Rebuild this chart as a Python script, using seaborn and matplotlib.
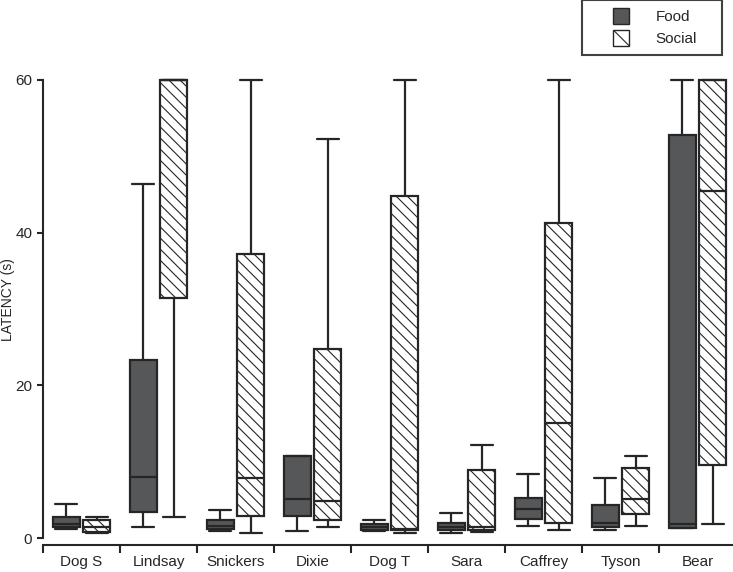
import numpy as np
import pandas as pd
import seaborn as sns
import matplotlib.pyplot as plt
from matplotlib.patches import Patch, Rectangle
from matplotlib.legend_handler import HandlerPatch

dogs = ['Dog S', 'Lindsay', 'Snickers', 'Dixie', 'Dog T', 'Sara', 'Caffrey', 'Tyson', 'Bear']
conditions = ['Food', 'Social']

# five-number summaries: min, Q1, median, Q3, max (s)
food = [
    [1.2, 1.4, 1.8, 2.8, 4.5],
    [1.5, 3.4, 8.0, 23.3, 46.4],
    [0.9, 1.2, 1.6, 2.4, 3.7],
    [0.9, 2.9, 5.1, 10.8, 10.8],
    [0.9, 1.0, 1.5, 1.9, 2.3],
    [0.7, 1.0, 1.4, 2.0, 3.3],
    [1.6, 2.5, 3.8, 5.3, 8.4],
    [1.0, 1.5, 2.0, 4.3, 7.8],
    [1.3, 1.3, 1.9, 52.8, 60.0],
]
social = [
    [0.6, 0.8, 1.4, 2.4, 2.8],
    [2.8, 31.5, 60.0, 60.0, 60.0],
    [0.7, 2.9, 7.9, 37.2, 60.0],
    [1.4, 2.4, 4.8, 24.7, 52.3],
    [0.7, 1.05, 1.2, 44.8, 60.0],
    [0.8, 1.1, 1.5, 8.9, 12.2],
    [1.1, 2.0, 15.1, 41.2, 60.0],
    [1.6, 3.2, 5.1, 9.2, 10.7],
    [1.8, 9.5, 45.4, 60.0, 60.0],
]

food_color = '#555759'
line_color = '#262626'

rows = []
for cond, summaries in zip(conditions, [food, social]):
    for dog, vals in zip(dogs, summaries):
        for v in vals:
            rows.append({'dog': dog, 'condition': cond, 'latency': v})
df = pd.DataFrame(rows)

sns.set_style('ticks')
plt.rcParams['font.family'] = ['Liberation Sans', 'DejaVu Sans']
plt.rcParams['hatch.linewidth'] = 0.8

fig = plt.figure(figsize=(7.33, 5.72), dpi=100)
ax = fig.add_axes([0.0587, 0.0554, 0.9454, 0.8128])

sns.boxplot(data=df, x='dog', y='latency', hue='condition', order=dogs,
            hue_order=conditions, palette={'Food': food_color, 'Social': 'white'},
            linecolor=line_color, linewidth=1.6, width=0.8, gap=0.12,
            whis=(0, 100), saturation=1, capwidths=0.28, legend=False, ax=ax)

# hatch the social boxes
for p in ax.patches:
    if p.get_facecolor()[0] > 0.9:
        p.set_hatch('\\\\\\')

ax.set_xlim(-0.5, 8.5)
ax.set_ylim(-0.3, 60.6)
ax.spines[['top', 'right']].set_visible(False)
ax.spines['left'].set_bounds(0, 60)
ax.spines['bottom'].set_position(('outward', 3.4))
ax.spines['left'].set_linewidth(1.5)
ax.spines['bottom'].set_linewidth(1.5)

ax.set_yticks([0, 20, 40, 60])
ax.tick_params(axis='y', length=4.3, width=1.5, pad=3.5, labelsize=11)
ax.set_xticks(np.arange(-0.5, 9, 1))
ax.set_xticklabels([])
ax.set_xticks(range(9), minor=True)
ax.set_xticklabels(dogs, minor=True)
ax.tick_params(axis='x', which='major', length=6, width=1.5, direction='out')
ax.tick_params(axis='x', which='minor', length=0, pad=7, labelsize=11)

ax.set_xlabel('')
ax.set_ylabel('LATENCY (s)', fontsize=10, va='center', ha='center')
ax.yaxis.set_label_coords(-0.0505, 0.517)


def square(legend, orig_handle, xdescent, ydescent, width, height, fontsize):
    s = 1.0 * fontsize
    return Rectangle((width - s - xdescent, -ydescent + (height - s) / 2), s, s)


handles = [Patch(facecolor=food_color, edgecolor=line_color, label='Food'),
           Patch(facecolor='white', edgecolor=line_color, hatch='\\\\', label='Social')]
leg = fig.legend(handles=handles, loc='upper left',
                 bbox_to_anchor=(582 / 733, 0, 140 / 733, 1.0), mode='expand',
                 handler_map={Patch: HandlerPatch(patch_func=square)},
                 handlelength=2.45, handleheight=1.0, handletextpad=1.75,
                 borderpad=0.6, labelspacing=0.45, fontsize=11,
                 frameon=True, fancybox=False, edgecolor='#111111', borderaxespad=0)
leg.get_frame().set_linewidth(1.5)

plt.savefig('out.png', dpi=100)
